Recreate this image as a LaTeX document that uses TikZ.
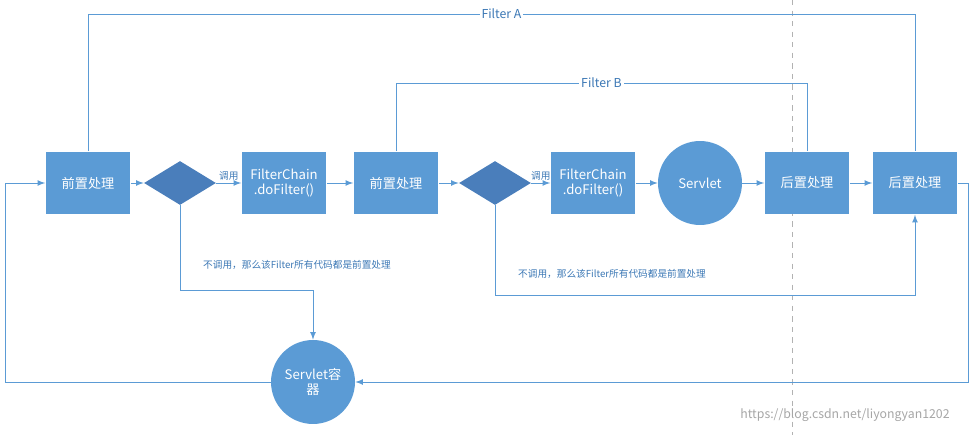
\documentclass[tikz,border=0pt]{standalone}
\usepackage{fontspec}
\setmainfont{Noto Sans CJK SC}
\usetikzlibrary{shapes.geometric}
\definecolor{fblue}{HTML}{5B9BD5}
\definecolor{dblue}{HTML}{4A7EBB}
\definecolor{lblue}{HTML}{3C78B5}
\tikzset{
	stage/.style={shape=rectangle,fill=fblue,text=white,minimum width=1.7cm,minimum height=1.26cm,align=center,font=\fontsize{7.5}{9}\selectfont,inner sep=1pt},
	check/.style={shape=diamond,fill=dblue,minimum width=1.44cm,minimum height=0.88cm,inner sep=0pt},
	ball/.style={shape=circle,fill=fblue,text=white,minimum size=1.68cm,align=center,font=\fontsize{7.5}{9}\selectfont,inner sep=1pt},
	flow/.style={draw=fblue,line width=0.5pt,-latex},
	wire/.style={draw=fblue,line width=0.5pt},
	note/.style={text=lblue,font=\fontsize{5.5}{7}\selectfont,inner sep=1pt}
}
\begin{document}
\begin{tikzpicture}[x=0.02cm,y=-0.02cm]
	\useasboundingbox (0,0) rectangle (978,435);
	\draw[gray!60,dashed] (792,0) -- (792,435);

	\node[stage] (pre1) at (88,183) {前置处理};
	\node[check] (d1) at (180,183) {};
	\node[stage] (chain1) at (284,183) {FilterChain\\.doFilter()};
	\node[stage] (pre2) at (396,183) {前置处理};
	\node[check] (d2) at (495,183) {};
	\node[stage] (chain2) at (593,183) {FilterChain\\.doFilter()};
	\node[ball] (servlet) at (700,183) {Servlet};
	\node[stage] (post1) at (807,183) {后置处理};
	\node[stage] (post2) at (915,183) {后置处理};
	\node[ball] (box) at (313,382) {Servlet容\\器};

	\draw[flow] (pre1) -- (d1);
	\draw[flow] (d1) -- node[note,above] {调用} (chain1);
	\draw[flow] (chain1) -- (pre2);
	\draw[flow] (pre2) -- (d2);
	\draw[flow] (d2) -- node[note,above] {调用} (chain2);
	\draw[flow] (chain2) -- (servlet);
	\draw[flow] (servlet) -- (post1);
	\draw[flow] (post1) -- (post2);

	\draw[wire] (pre1.north) |- node[note,pos=0.75,fill=white,font=\fontsize{7}{8}\selectfont] {Filter A} (915,14) -- (post2.north);
	\draw[wire] (pre2.north) |- node[note,pos=0.75,fill=white,font=\fontsize{7}{8}\selectfont] {Filter B} (807,83) -- (post1.north);

	\draw[flow] (d1.south) -- (180,290) -- (313,290) -- (box.north);
	\node[note] (skip1) at (297,265) {不调用，那么该Filter所有代码都是前置处理};
	\draw[flow] (d2.south) -- (495,295) -- (915,295) -- (post2.south);
	\node[note] (skip2) at (612,274) {不调用，那么该Filter所有代码都是前置处理};

	\draw[flow] (post2.east) -- (968,183) -- (968,382) -- (box.east);
	\draw[flow] (box.west) -- (5,382) -- (5,183) -- (pre1.west);

	\node[text=gray!70,font=\fontsize{7}{8}\selectfont] (mark) at (845,415) {https://blog.csdn.net/liyongyan1202};
\end{tikzpicture}
\end{document}
